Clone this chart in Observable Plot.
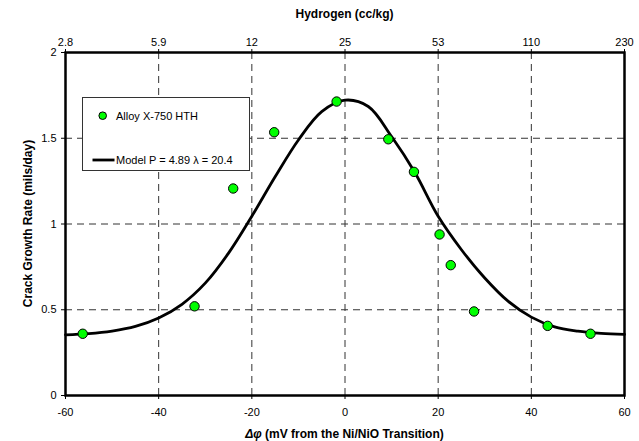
<!DOCTYPE html>
<html><head><meta charset="utf-8">
<script src="https://cdn.jsdelivr.net/npm/d3@7"></script>
<script src="https://cdn.jsdelivr.net/npm/@observablehq/plot@0.6"></script>
<style>
body{margin:0;background:#fff;}
#chart{width:639px;height:441px;}
</style></head><body><div id="chart"></div>
<script>
// Axis ticks and labels
const xTicks = [-60, -40, -20, 0, 20, 40, 60];
const hydrogenLabels = ["2.8", "5.9", "12", "25", "53", "110", "230"];
const yTicks = [0, 0.5, 1, 1.5, 2];
const yTickLabels = ["0", "0.5", "1", "1.5", "2"];

// Alloy X-750 HTH measured points
const alloyDphi = [-56.3, -32.3, -24.0, -15.2, -1.8, 9.3, 14.8, 20.3, 22.7, 27.7, 43.5, 52.7];
const alloyCgr  = [0.36, 0.52, 1.207, 1.535, 1.714, 1.494, 1.304, 0.939, 0.76, 0.49, 0.406, 0.36];

// Model curve
const modelDphi = [-60, -55, -50, -45, -40, -35, -30, -25, -20, -15, -10, -5, 0, 5, 10, 15, 20, 25, 30, 35, 40, 45, 50, 55, 60];
const modelCgr  = [0.354, 0.361, 0.376, 0.403, 0.452, 0.532, 0.655, 0.83, 1.045, 1.275, 1.49, 1.655, 1.722, 1.685, 1.51, 1.30, 1.045, 0.85, 0.685, 0.55, 0.457, 0.400, 0.375, 0.362, 0.356];

const seriesName = "Alloy X-750 HTH";
const modelName = "Model P = 4.89 \u03bb = 20.4";

const pts = alloyDphi.map((x, i) => ({x, y: alloyCgr[i]}));
const model = modelDphi.map((x, i) => ({x, y: modelCgr[i]}));
const font = "'Liberation Sans', Arial, sans-serif";
const grid = {stroke: "#333", strokeOpacity: 1, strokeWidth: 1, strokeDasharray: "7,5"};

const plot = Plot.plot({
  width: 639, height: 441,
  marginLeft: 65, marginRight: 15, marginTop: 52, marginBottom: 46,
  style: {fontFamily: font, fontSize: "11px", color: "#000", background: "#fff", overflow: "visible"},
  x: {domain: [-60, 60]},
  y: {domain: [0, 2]},
  marks: [
    Plot.gridX(xTicks.slice(1, -1), grid),
    Plot.gridY(yTicks.slice(1, -1), grid),
    Plot.axisX(xTicks, {anchor: "bottom", tickSize: 4, tickPadding: 9, label: null, tickFormat: d => String(d)}),
    Plot.axisX(xTicks, {anchor: "top", tickSize: 4, tickPadding: 3, label: null, tickFormat: d => hydrogenLabels[xTicks.indexOf(d)]}),
    Plot.axisY(yTicks, {anchor: "left", tickSize: 4, tickPadding: 5, label: null, tickFormat: d => yTickLabels[yTicks.indexOf(d)]}),
    Plot.line(model, {x: "x", y: "y", stroke: "#000", strokeWidth: 2.8, curve: "catmull-rom"}),
    Plot.dot(pts, {x: "x", y: "y", r: 4.7, fill: "#00ff00", stroke: "#000", strokeWidth: 1}),
    Plot.frame({stroke: "#000", strokeWidth: 2.5})
  ]
});

const svg = d3.select(plot);
// Legend
const lg = svg.append("g").attr("font-family", font).attr("font-size", 11).attr("text-anchor", "start");
lg.append("rect").attr("x", 82.5).attr("y", 97.5).attr("width", 167).attr("height", 73)
  .attr("fill", "#fff").attr("stroke", "#333").attr("stroke-width", 1);
lg.append("circle").attr("cx", 102.7).attr("cy", 115.7).attr("r", 3.8)
  .attr("fill", "#00ff00").attr("stroke", "#000").attr("stroke-width", 1);
lg.append("text").attr("x", 116).attr("y", 115.7).attr("dy", "0.35em").attr("text-anchor", "start").text(seriesName);
lg.append("line").attr("x1", 92.5).attr("x2", 114.5).attr("y1", 160).attr("y2", 160)
  .attr("stroke", "#000").attr("stroke-width", 2.8);
lg.append("text").attr("x", 116).attr("y", 160).attr("dy", "0.35em").attr("text-anchor", "start").text(modelName);

// Titles
const t = svg.append("g").attr("font-family", font).attr("font-size", 12).attr("font-weight", "bold").attr("fill", "#000");
t.append("text").attr("x", 344.5).attr("y", 18).attr("text-anchor", "middle").text("Hydrogen (cc/kg)");
const xt = t.append("text").attr("x", 344.5).attr("y", 437.5).attr("text-anchor", "middle");
xt.append("tspan").attr("font-style", "italic").text("\u0394\u03c6");
xt.append("tspan").text(" (mV from the Ni/NiO Transition)");
t.append("text").attr("transform", "translate(32,223.5) rotate(-90)").attr("text-anchor", "middle").text("Crack Growth Rate (mils/day)");

document.getElementById("chart").appendChild(plot);
</script></body></html>
